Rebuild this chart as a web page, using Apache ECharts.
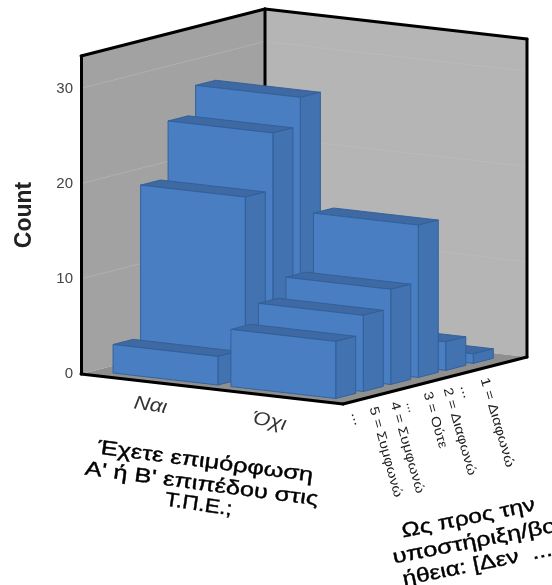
<!DOCTYPE html>
<html>
<head>
<meta charset="utf-8">
<style>html,body{margin:0;padding:0;background:#fff}#c{width:552px;height:585px}</style>
<script src="https://cdn.jsdelivr.net/npm/echarts@6/dist/echarts.min.js"></script>
</head>
<body>
<div id="c"></div>
<script>
// ---- data ----
var xCategories = ['Ναι', 'Όχι'];
var depthCategories = ['5 = Συμφωνώ', '4 = Συμφωνώ', '3 = Ούτε', '2 = Διαφωνώ', '1 = Διαφωνώ', ''];
var naiCounts = [3, 19, 25, 28, 0, 0];
var oxiCounts = [6, 8, 10, 16, 3, 1];
var valueTicksMax = 33.4;
var gridValues = [10, 20, 30];
var xTitleLines = ['Έχετε επιμόρφωση', "Α' ή Β' επιπέδου στις", 'Τ.Π.Ε.;'];
var depthTitleLines = ['Ως προς την', 'υποστήριξη/βο', 'ήθεια: [Δεν  ...'];
var truncMark = '...';

// ---- oblique projection of the box ----
var DEPTH_DX = 184, DEPTH_DY = -47, X_DROP_PER_UNIT = 15;
var U0 = 0.149, U_PITCH = 0.9, U_W = 0.8;
var V0 = 0.068, V_PITCH = 0.1495, V_D = 0.109;

function P(api, u, v, c) {
  var p = api.coord([u, c]);
  return [p[0] + v * DEPTH_DX, p[1] + u * X_DROP_PER_UNIT + v * DEPTH_DY];
}
function poly(points, fill, stroke, lw) {
  return { type: 'polygon', shape: { points: points },
    style: { fill: fill, stroke: stroke || null, lineWidth: lw || 0, lineJoin: 'round' }, silent: true };
}
function line(a, b, color, w) {
  return { type: 'line', shape: { x1: a[0], y1: a[1], x2: b[0], y2: b[1] },
    style: { stroke: color, lineWidth: w, lineCap: 'round' }, silent: true };
}

function renderBox(params, api) {
  var M = valueTicksMax, ch = [];
  ch.push(poly([P(api,0,0,0), P(api,0,1,0), P(api,0,1,M), P(api,0,0,M)], '#A2A2A2'));
  ch.push(poly([P(api,0,1,0), P(api,2,1,0), P(api,2,1,M), P(api,0,1,M)], '#B5B5B5'));
  ch.push(poly([P(api,0,0,0), P(api,2,0,0), P(api,2,1,0), P(api,0,1,0)], '#8F8F8F'));
  gridValues.forEach(function (g) {
    ch.push(line(P(api,0,0,g), P(api,0,1,g), '#B0B0B0', 1));
    ch.push(line(P(api,0,1,g), P(api,2,1,g), '#BBBBBB', 1));
  });
  ch.push(line(P(api,0,1,0), P(api,0,1,M), '#000', 3));
  ch.push(line(P(api,0,0,M), P(api,0,1,M), '#000', 3));
  ch.push(line(P(api,0,1,M), P(api,2,1,M), '#000', 3));
  ch.push(line(P(api,2,1,M), P(api,2,1,0), '#000', 3));
  ch.push(line(P(api,0,0,0), P(api,2,0,0), '#000', 3));
  ch.push(line(P(api,2,0,0), P(api,2,1,0), '#000', 3));
  return { type: 'group', children: ch };
}

function renderBar(params, api) {
  var xi = api.value(0), ri = api.value(1), c = api.value(2);
  if (!c) return null;
  var u0 = U0 + xi * U_PITCH, u1 = u0 + U_W;
  var v0 = V0 + ri * V_PITCH, v1 = v0 + V_D;
  var edge = '#2F5F98', w = 0.9;
  return { type: 'group', children: [
    poly([P(api,u0,v0,c), P(api,u1,v0,c), P(api,u1,v1,c), P(api,u0,v1,c)], '#3E69A3', edge, w),
    poly([P(api,u1,v0,0), P(api,u1,v1,0), P(api,u1,v1,c), P(api,u1,v0,c)], '#4272AF', edge, w),
    poly([P(api,u0,v0,0), P(api,u1,v0,0), P(api,u1,v0,c), P(api,u0,v0,c)], '#4A7EC2', edge, w)
  ]};
}

// back rows first, left category first, so nearer bars paint over farther ones
var barData = [];
for (var r = depthCategories.length - 1; r >= 0; r--) {
  barData.push([0, r, naiCounts[r]]);
  barData.push([1, r, oxiCounts[r]]);
}

// ---- texts fitted between two end points ----
var mctx = document.createElement('canvas').getContext('2d');
function fitted(t, x1, y1, x2, y2, size, color, style, heavy) {
  var font = (style || 'normal') + ' normal ' + size + 'px "Liberation Sans", Arial, sans-serif';
  mctx.font = font;
  var w = mctx.measureText(t).width;
  var dx = x2 - x1, dy = y2 - y1, len = Math.sqrt(dx * dx + dy * dy);
  return { type: 'text', x: x1, y: y1, rotation: -Math.atan2(dy, dx), scaleX: len / w, silent: true, z: 20,
    style: { text: t, font: font, fill: color, align: 'left', verticalAlign: 'middle',
      stroke: heavy ? color : null, lineWidth: heavy || 0 } };
}
var C2 = '#000', C3 = '#222';
var texts = [
  fitted(xCategories[0], 134, 403, 167, 408, 19, '#333', 'italic'),
  fitted(xCategories[1], 253, 418, 286, 425, 19, '#333', 'italic'),
  fitted(xTitleLines[0], 98, 448, 313, 476, 20, C2, null, 0.4),
  fitted(xTitleLines[1], 85, 469, 318, 500, 20, C2, null, 0.4),
  fitted(xTitleLines[2], 165, 500, 232, 510, 20, C2, null, 0.4),
  fitted(depthTitleLines[0], 402, 532, 535, 505, 20, C2, null, 0.4),
  fitted(depthTitleLines[1], 393, 558, 556, 526, 20, C2, null, 0.4),
  fitted(depthTitleLines[2], 403, 580, 552, 550, 20, C2, null, 0.4),
  fitted(depthCategories[0], 373, 407, 398, 497, 13, C3),
  fitted(depthCategories[1], 394, 402, 420, 493, 13, C3),
  fitted(depthCategories[2], 427, 392, 443, 448, 13, C3),
  fitted(depthCategories[3], 447, 388, 472, 475, 13, C3),
  fitted(depthCategories[4], 484, 378, 510, 467, 13, C3),
  fitted(truncMark, 355, 412, 359, 425, 14, C3),
  fitted(truncMark, 410, 402, 413, 412, 14, C3),
  fitted(truncMark, 464, 385, 468, 398, 14, C3)
];

var chart = echarts.init(document.getElementById('c'), null, { renderer: 'canvas' });
chart.setOption({
  animation: false,
  backgroundColor: '#fff',
  grid: { left: 81, top: 56, width: 262, height: 318, containLabel: false },
  xAxis: { type: 'value', min: 0, max: 2, show: false },
  yAxis: {
    type: 'value', min: 0, max: valueTicksMax, interval: 10, z: 5,
    name: 'Count', nameLocation: 'middle', nameGap: 45,
    nameTextStyle: { fontFamily: 'Liberation Sans', fontSize: 23, fontWeight: 'bold', color: '#222' },
    axisLine: { show: true, lineStyle: { color: '#000', width: 3 } },
    axisTick: { show: false },
    splitLine: { show: false },
    axisLabel: { showMaxLabel: false, margin: 8, padding: [11, 0, 0, 0], fontFamily: 'Liberation Sans', fontSize: 15, color: '#444' }
  },
  series: [
    { type: 'custom', coordinateSystem: 'cartesian2d', clip: false, silent: true, z: 1,
      data: [[0, 0, 0]], encode: { x: 0, y: 1 }, renderItem: renderBox },
    { type: 'custom', coordinateSystem: 'cartesian2d', clip: false, silent: true, z: 3,
      data: barData, encode: { x: 0, y: 2 }, renderItem: renderBar }
  ],
  graphic: { elements: texts }
});
</script>
</body>
</html>
